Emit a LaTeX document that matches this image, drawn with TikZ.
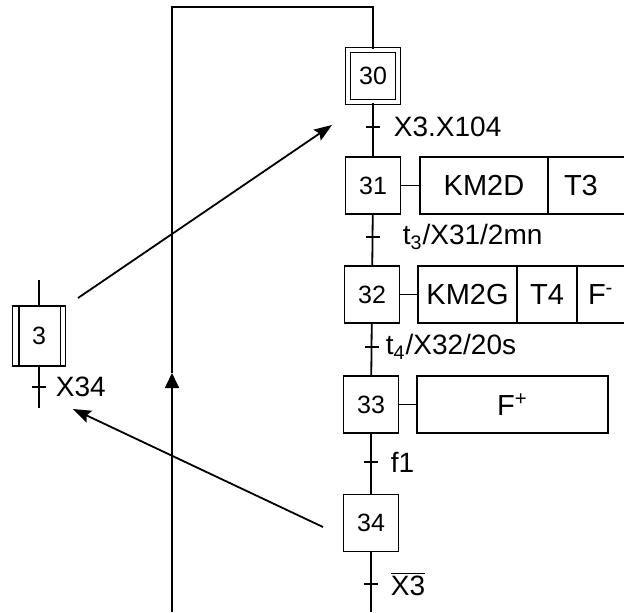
\documentclass[tikz,border=0pt]{standalone}
\usepackage{fontspec}
\setmainfont{Liberation Sans}
\usetikzlibrary{positioning, arrows.meta, calc}

\begin{document}
\begin{tikzpicture}[x=0.5pt, y=-0.5pt, line width=0.9pt,
    etape/.style={draw, minimum width=27.5pt, minimum height=28.5pt,
                  inner sep=0pt, font=\fontsize{12.5}{14}\selectfont},
    action/.style={draw, minimum height=28.5pt, inner sep=0pt, outer sep=0pt,
                   anchor=west, font=\fontsize{14.5}{16}\selectfont},
    recept/.style={inner sep=0pt, font=\fontsize{14}{16}\selectfont},
    fleche/.style={-{Stealth[length=9pt, width=6.5pt, inset=1.5pt]}}]
    \clip (0,0) rectangle (624,612);

    % grafcet de la tache
    \node[etape, minimum width=25pt, minimum height=26pt,
          double, double distance=1.6pt] (e30) at (373,76) {30};
    \node[etape] (e31) at (373,185.5) {31};
    \node[etape] (e32) at (372,294.5) {32};
    \node[etape] (e33) at (371,404.5) {33};
    \node[etape] (e34) at (371,523) {34};
    \coordinate (bas) at (371,612);

    \draw (e30) -- (e31);
    \draw (e31) -- (e32);
    \draw (e32) -- (e33);
    \draw (e33) -- (e34);
    \draw (e34) -- (bas);

    % transitions
    \coordinate (t30) at (373,127);
    \coordinate (t31) at (373,237);
    \coordinate (t32) at (372,347);
    \coordinate (t33) at (371,462);
    \coordinate (t34) at (371,584);
    \foreach \t in {t30,t31,t32,t33,t34}
      \draw ([xshift=-3.5pt]\t) -- ([xshift=3.5pt]\t);
    \node[recept, right=10pt of t30] (r30) {X3.X104};
    \node[recept, right=14.5pt of t31] (r31) {t\textsubscript{3}/X31/2mn};
    \node[recept, right=6.5pt of t32] (r32) {t\textsubscript{4}/X32/20s};
    \node[recept, right=9.5pt of t33] (r33) {f1};
    \node[recept, right=9.5pt of t34] (r34) {$\overline{\mbox{X3}}$};

    % actions
    \node[action, minimum width=64pt] (a31) at (420,185.5) {KM2D};
    \node[action, text width=33pt, inner xsep=8pt, align=left] (a31b) at (a31.east) {T3};
    \node[action, minimum width=49.5pt] (a32) at (418,294.5) {KM2G};
    \node[action, minimum width=30pt] (a32b) at (a32.east) {T4};
    \node[action, text width=30pt, inner xsep=5.5pt, align=left] (a32c) at (a32b.east) {F\textsuperscript{-}};
    \node[action, minimum width=95.5pt] (a33) at (417,404.5) {F\textsuperscript{+}};
    \draw (e31) -- (a31);
    \draw (e32) -- (a32);
    \draw (e33) -- (a33);

    % bouclage
    \coordinate (boucle) at (172,612);
    \coordinate (fboucle) at (172,373);
    \coordinate (hboucle) at (172,7);
    \draw[-{Triangle[length=7.5pt, width=7pt]}] (boucle) -- (fboucle);
    \draw (fboucle) -- (hboucle) -| (e30.north);

    % etape encapsulante
    \node[etape, minimum width=26.5pt, minimum height=30pt] (e3) at (39,336) {3};
    \draw ([xshift=3.5pt]e3.north west) -- ([xshift=3.5pt]e3.south west);
    \draw ([xshift=-3pt]e3.north east) -- ([xshift=-3pt]e3.south east);
    \coordinate (e3haut) at (39,280);
    \coordinate (e3bas) at (39,408);
    \coordinate (t3) at (39,387);
    \draw (e3haut) -- (e3);
    \draw (e3) -- (e3bas);
    \draw ([xshift=-3.5pt]t3) -- ([xshift=3.5pt]t3);
    \node[recept, right=8pt of t3] (r3) {X34};

    % liens
    \coordinate (dep3) at (78,298);
    \coordinate (fin3) at (332,125);
    \coordinate (dep34) at (323,527);
    \coordinate (fin34) at (73,409);
    \draw[fleche] (dep3) -- (fin3);
    \draw[fleche] (dep34) -- (fin34);
\end{tikzpicture}
\end{document}
